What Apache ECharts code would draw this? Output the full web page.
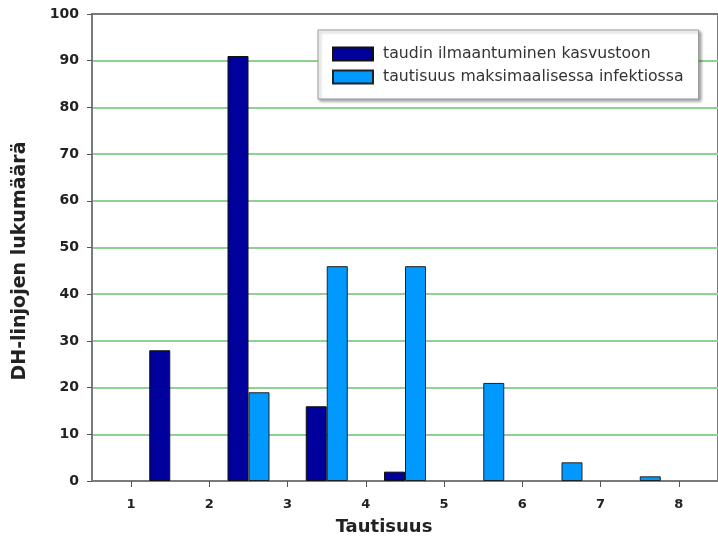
<!DOCTYPE html>
<html>
<head>
<meta charset="utf-8">
<script src="https://cdn.jsdelivr.net/npm/echarts@6/dist/echarts.min.js"></script>
<style>
  html, body { margin: 0; padding: 0; background: #fff; }
  #chart { width: 718px; height: 537px; }
</style>
</head>
<body>
<div id="chart"></div>
<script>
// Tautisuusluokat (x-akselin merkinnät)
const tickLabels = [1, 2, 3, 4, 5, 6, 7, 8];
// Pylväsryhmien paikat x-akselilla
const groupPos = [1.5, 2.5, 3.5, 4.5, 5.5, 6.5, 7.5];
// DH-linjojen lukumäärät
const ilmaantuminen = [28, 91, 16, 2, 0, 0, 0];
const maksimaalinen = [0, 19, 46, 46, 21, 4, 1];
const seriesNames = ['taudin ilmaantuminen kasvustoon', 'tautisuus maksimaalisessa infektiossa'];
const xTitle = 'Tautisuus';
const yTitle = 'DH-linjojen lukumäärä';

const toPoints = vals => groupPos.map((x, i) => [x, vals[i]]).filter(p => p[1] > 0);

const chart = echarts.init(document.getElementById('chart'), null, { renderer: 'canvas' });
const font = 'DejaVu Sans, sans-serif';

chart.setOption({
  animation: false,
  backgroundColor: '#ffffff',
  grid: {
    left: 92, top: 14, width: 633, height: 467,
    show: true, borderColor: '#7a7a7a', borderWidth: 2, backgroundColor: 'transparent'
  },
  legend: {
    orient: 'vertical',
    left: 318, top: 30,
    padding: [16, 15, 14, 14],
    itemGap: 7,
    itemWidth: 40, itemHeight: 13,
    backgroundColor: '#ffffff',
    borderColor: '#9a9a9a', borderWidth: 1,
    shadowColor: 'rgba(0,0,0,0.35)', shadowBlur: 3, shadowOffsetX: 2, shadowOffsetY: 2,
    textStyle: {
      fontFamily: font, fontSize: 15.7, lineHeight: 13, color: '#333',
      padding: [0, 0, 0, 5]
    },
    data: seriesNames.map(n => ({ name: n, icon: 'rect' }))
  },
  xAxis: {
    type: 'value',
    min: 0.5, max: 8.5,
    splitLine: { show: false },
    axisLine: { show: true, lineStyle: { color: '#7a7a7a', width: 2 } },
    axisTick: { show: true, length: 6, customValues: tickLabels, lineStyle: { color: '#555' } },
    axisLabel: {
      customValues: tickLabels, margin: 17,
      fontFamily: font, fontWeight: 'bold', fontSize: 13, color: '#222'
    }
  },
  yAxis: {
    type: 'value',
    min: 0, max: 100, interval: 10,
    axisLine: { show: true, lineStyle: { color: '#7a7a7a', width: 2 } },
    axisTick: { show: true, length: 5, lineStyle: { color: '#555' } },
    axisLabel: { margin: 13, fontFamily: font, fontWeight: 'bold', fontSize: 14, color: '#222' },
    splitLine: {
      show: true, showMinLine: false, showMaxLine: false,
      lineStyle: { color: '#8fd18f', width: 2 }
    }
  },
  graphic: [
    {
      type: 'text', x: 384, y: 527,
      style: {
        text: xTitle, font: 'bold 18px ' + font, fill: '#222',
        textAlign: 'center', textVerticalAlign: 'middle'
      }
    },
    {
      type: 'text', x: 20, y: 261, rotation: Math.PI / 2,
      style: {
        text: yTitle, font: 'bold 19px ' + font, fill: '#222',
        textAlign: 'center', textVerticalAlign: 'middle'
      }
    }
  ],
  series: [
    {
      name: seriesNames[0], type: 'bar',
      barWidth: 21, barGap: '0%',
      itemStyle: { color: '#00009c', borderColor: '#111', borderWidth: 1 },
      data: toPoints(ilmaantuminen)
    },
    {
      name: seriesNames[1], type: 'bar',
      barWidth: 21, barGap: '0%',
      itemStyle: { color: '#0099ff', borderColor: '#222', borderWidth: 1 },
      data: toPoints(maksimaalinen)
    }
  ]
});
</script>
</body>
</html>
